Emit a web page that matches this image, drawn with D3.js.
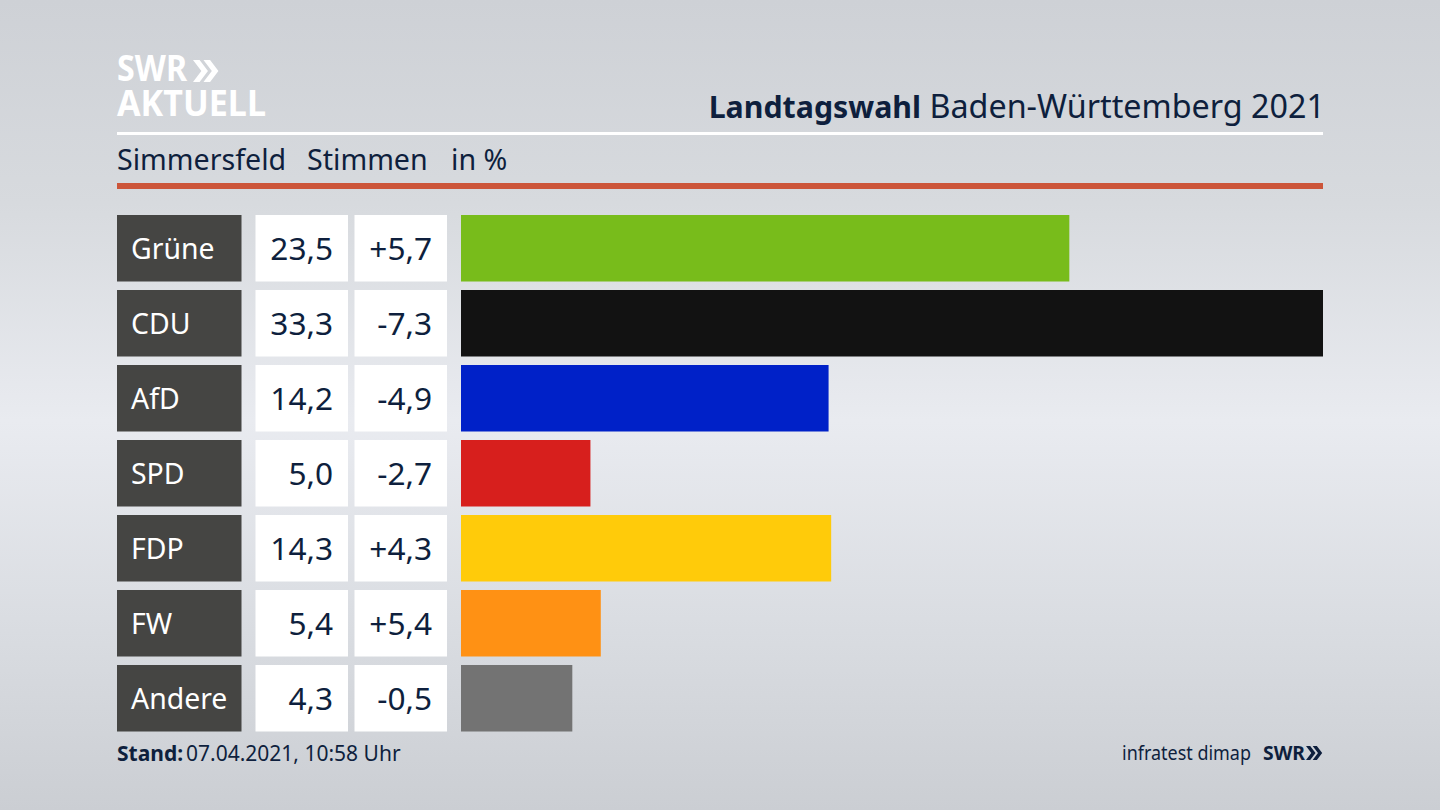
<!DOCTYPE html>
<html>
<head>
<meta charset="utf-8">
<title>Landtagswahl Baden-Württemberg 2021</title>
<script src="https://cdn.jsdelivr.net/npm/d3@7"></script>
<style>
html, body { margin: 0; padding: 0; background: #d5d8dd; overflow: hidden; }
text { font-family: "Noto Sans", sans-serif; }
</style>
</head>
<body>
<div id="chart"></div>
<script>
var parties = ["Grüne", "CDU", "AfD", "SPD", "FDP", "FW", "Andere"];
var shares = [23.5, 33.3, 14.2, 5.0, 14.3, 5.4, 4.3];
var shareLabels = ["23,5", "33,3", "14,2", "5,0", "14,3", "5,4", "4,3"];
var changeLabels = ["+5,7", "-7,3", "-4,9", "-2,7", "+4,3", "+5,4", "-0,5"];
var barColors = ["#78bc1b", "#121212", "#0021c8", "#d71f1d", "#ffcb0a", "#ff9114", "#737373"];

var ink = "#0e1f3d";
var width = 1440;
var height = 810;

var svg = d3.select("#chart").append("svg")
    .attr("width", width)
    .attr("height", height)
    .style("display", "block");

var defs = svg.append("defs");

var bg = defs.append("linearGradient")
    .attr("id", "bg")
    .attr("x1", 0).attr("y1", 0).attr("x2", 0).attr("y2", 1);
bg.append("stop").attr("offset", "0%").attr("stop-color", "#ced1d6");
bg.append("stop").attr("offset", "25%").attr("stop-color", "#d7dade");
bg.append("stop").attr("offset", "52%").attr("stop-color", "#e9ebf0");
bg.append("stop").attr("offset", "78%").attr("stop-color", "#d9dce1");
bg.append("stop").attr("offset", "100%").attr("stop-color", "#cbced3");

svg.append("rect").attr("width", width).attr("height", height).attr("fill", "url(#bg)");

// rows
var y = d3.scaleBand()
    .domain(parties)
    .range([215, 731.5])
    .paddingInner(0.1133);

var x = d3.scaleLinear()
    .domain([0, 33.3])
    .range([461, 1323]);

var rows = svg.selectAll(".row")
    .data(parties)
    .enter().append("g")
    .attr("class", "row")
    .attr("transform", function(d) { return "translate(0," + y(d) + ")"; });

rows.append("rect")
    .attr("x", 117).attr("width", 124.5).attr("height", y.bandwidth())
    .attr("fill", "#454543");

rows.append("text")
    .attr("x", 131).attr("y", y.bandwidth() / 2 + 11)
    .attr("font-size", 28.4).attr("fill", "#fff")
    .text(function(d) { return d; });

rows.append("rect")
    .attr("x", 255.5).attr("width", 92.5).attr("height", y.bandwidth())
    .attr("fill", "#fff");

rows.append("text")
    .attr("x", 333).attr("y", y.bandwidth() / 2 + 12)
    .attr("text-anchor", "end")
    .attr("font-size", 31.6).attr("fill", ink)
    .text(function(d, i) { return shareLabels[i]; });

rows.append("rect")
    .attr("x", 354.5).attr("width", 92.5).attr("height", y.bandwidth())
    .attr("fill", "#fff");

rows.append("text")
    .attr("x", 432).attr("y", y.bandwidth() / 2 + 12)
    .attr("text-anchor", "end")
    .attr("font-size", 31.6).attr("fill", ink)
    .text(function(d, i) { return changeLabels[i]; });

rows.append("rect")
    .attr("x", x(0))
    .attr("width", function(d, i) { return x(shares[i]) - x(0); })
    .attr("height", y.bandwidth())
    .attr("fill", function(d, i) { return barColors[i]; });

// header
svg.append("rect").attr("x", 117).attr("y", 132).attr("width", 1206).attr("height", 3).attr("fill", "#fff");
svg.append("rect").attr("x", 117).attr("y", 183).attr("width", 1206).attr("height", 6).attr("fill", "#cc553a");

var title = svg.append("text")
    .attr("x", 1325).attr("y", 118)
    .attr("text-anchor", "end")
    .attr("font-size", 32.3).attr("fill", ink);
title.append("tspan").attr("font-weight", 700).attr("font-size", 30.3).text("Landtagswahl");
title.append("tspan").text(" Baden-Württemberg 2021");

[["Simmersfeld", 117], ["Stimmen", 307], ["in %", 451]].forEach(function(s) {
    svg.append("text")
        .attr("x", s[1]).attr("y", 170)
        .attr("font-size", 28.6).attr("fill", ink)
        .text(s[0]);
});

// chevrons of the SWR logo
function chevrons(g, px, py, h, color) {
    var w = h * 0.68, t = h * 0.3;
    [0, w * 0.7].forEach(function(dx) {
        var p = d3.path();
        p.moveTo(px + dx, py);
        p.lineTo(px + dx + t, py);
        p.lineTo(px + dx + w, py + h / 2);
        p.lineTo(px + dx + t, py + h);
        p.lineTo(px + dx, py + h);
        p.lineTo(px + dx + w - t, py + h / 2);
        p.closePath();
        g.append("path").attr("d", p.toString()).attr("fill", color);
    });
}

// logo lines sit closer than the font's line box, so keep them in one text
var logo = svg.append("text")
    .attr("font-size", 36).attr("font-weight", 700).attr("fill", "#fff");
logo.append("tspan")
    .attr("x", 117).attr("y", 81)
    .attr("textLength", 70).attr("lengthAdjust", "spacingAndGlyphs")
    .text("SWR");
logo.append("tspan")
    .attr("x", 117).attr("y", 116)
    .attr("textLength", 149).attr("lengthAdjust", "spacingAndGlyphs")
    .text("AKTUELL");
chevrons(svg, 193, 60, 22, "#fff");

// footer
svg.append("text")
    .attr("x", 117).attr("y", 761)
    .attr("font-size", 21).attr("font-weight", 700).attr("fill", ink)
    .text("Stand:");

svg.append("text")
    .attr("x", 186).attr("y", 761)
    .attr("font-size", 21).attr("fill", ink)
    .text("07.04.2021, 10:58 Uhr");

svg.append("text")
    .attr("x", 1122).attr("y", 760)
    .attr("font-size", 20).attr("fill", ink)
    .attr("textLength", 129).attr("lengthAdjust", "spacingAndGlyphs")
    .text("infratest dimap");

svg.append("text")
    .attr("x", 1263).attr("y", 760)
    .attr("font-size", 20).attr("font-weight", 700).attr("fill", ink)
    .attr("textLength", 42).attr("lengthAdjust", "spacingAndGlyphs")
    .text("SWR");
chevrons(svg, 1306, 746, 14, ink);
</script>
</body>
</html>
